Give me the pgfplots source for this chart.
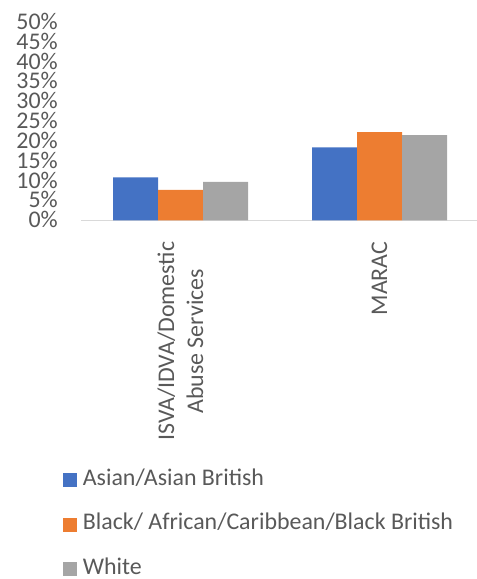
\documentclass[border=0pt]{standalone}
\usepackage{pgfplots}
\pgfplotsset{compat=1.18}
\usepackage{fontspec}
\setmainfont{Carlito}
\definecolor{cblue}{HTML}{4472C4}
\definecolor{corange}{HTML}{ED7D31}
\definecolor{cgrey}{HTML}{A5A5A5}
\definecolor{ctext}{HTML}{595959}
\definecolor{caxis}{HTML}{D9D9D9}
\newcommand\chartfont{\fontsize{23.9bp}{29bp}\selectfont}
\begin{document}
\begin{tikzpicture}[x=1bp,y=1bp]
\path[use as bounding box] (0,0) rectangle (477,579);
\begin{axis}[
 at={(81bp,358.7bp)}, anchor=south west,
 scale only axis, width=398bp, height=198.3bp,
 ybar=0pt, bar width=45bp,
 xmin=-0.5, xmax=1.5, ymin=0, ymax=50,
 axis x line*=bottom, axis y line*=left,
 x axis line style={caxis, line width=1bp},
 y axis line style={draw=none},
 xtick={0,1}, xtick style={draw=none},
 xticklabels={{ISVA/IDVA/Domestic\\Abuse Services},MARAC},
 xticklabel style={rotate=90, anchor=east, align=center, font=\chartfont,
   text=ctext, inner xsep=17bp, inner ysep=0pt},
 ytick={0,5,...,50}, ytick style={draw=none},
 yticklabels={0\%,5\%,10\%,15\%,20\%,25\%,30\%,35\%,40\%,45\%,50\%},
 yticklabel style={anchor=east, font=\chartfont, text=ctext, inner sep=0pt,
   text height=15bp, text depth=0bp, xshift=-23bp},
 legend style={at={(-0.046,-1.249)}, anchor=north west, draw=none, fill=none,
   inner sep=0pt, row sep=21.5bp, column sep=6bp, font=\chartfont, text=ctext,
   nodes={inner sep=0pt, text height=17bp, text depth=6bp, anchor=base west}},
 legend cell align=left,
 sq/.style={legend image code/.code={\fill[##1] (0bp,-2bp) rectangle (14bp,12bp);}},
]
\addplot[fill=cblue, draw=none, sq] coordinates {(0,10.8) (1,18.4)};
\addlegendentry{Asian/Asian British}
\addplot[fill=corange, draw=none, sq] coordinates {(0,7.7) (1,22.2)};
\addlegendentry{Black/ African/Caribbean/Black British}
\addplot[fill=cgrey, draw=none, sq] coordinates {(0,9.7) (1,21.5)};
\addlegendentry{White}
\end{axis}
\end{tikzpicture}
\end{document}
